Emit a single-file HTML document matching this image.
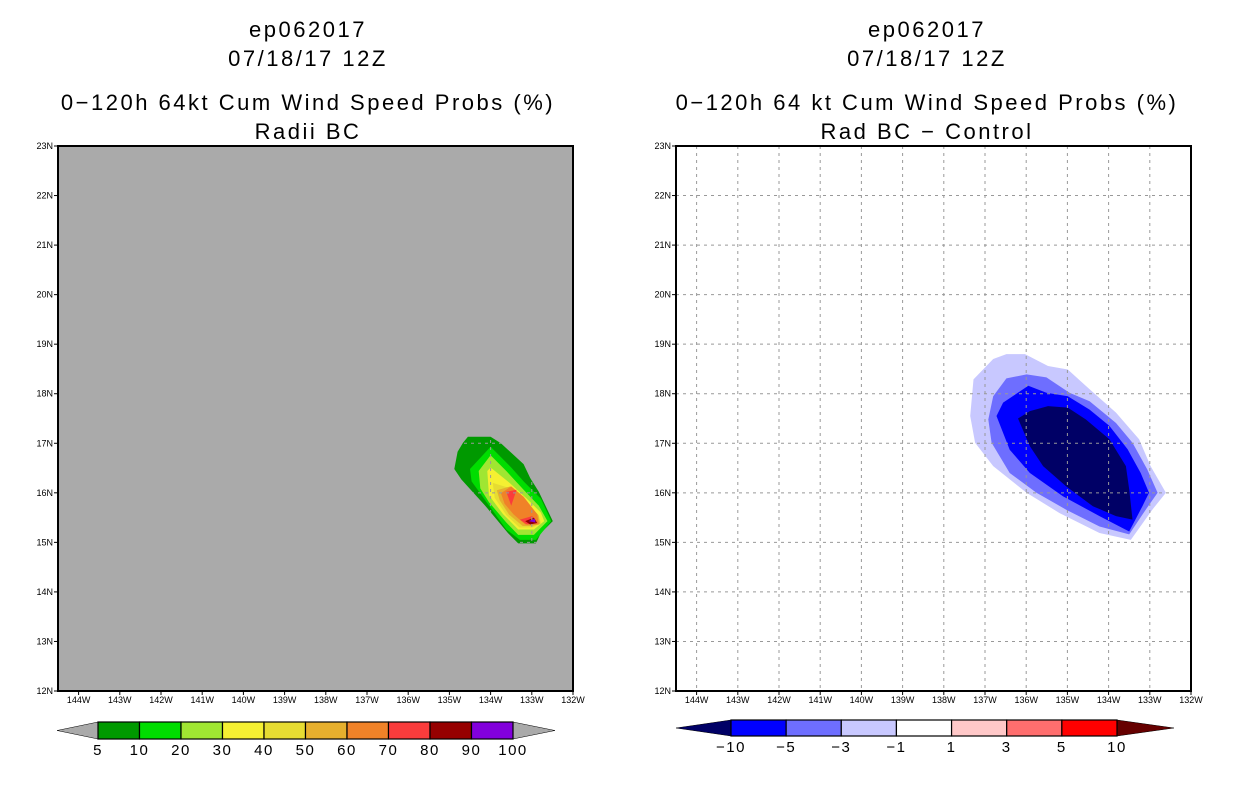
<!DOCTYPE html>
<html><head><meta charset="utf-8">
<style>
html,body{margin:0;padding:0;background:#fff;}
svg{display:block;font-family:"Liberation Sans","DejaVu Sans",sans-serif;}
</style></head>
<body>
<svg id="chart" width="1236" height="800" viewBox="0 0 1236 800" xmlns="http://www.w3.org/2000/svg">
  <defs><clipPath id="lclip"><polygon id="lclipPoly" points=""/></clipPath></defs>
  <g font-size="22" letter-spacing="2.5" text-anchor="middle" fill="#000">
    <text x="308" y="37">ep062017</text>
    <text x="308" y="66">07/18/17 12Z</text>
    <text x="308" y="110">0−120h 64kt Cum Wind Speed Probs (%)</text>
    <text x="308" y="139">Radii BC</text>
  </g>
  <g font-size="22" letter-spacing="2.5" text-anchor="middle" fill="#000">
    <text x="927" y="37">ep062017</text>
    <text x="927" y="66">07/18/17 12Z</text>
    <text x="927" y="110">0−120h 64 kt Cum Wind Speed Probs (%)</text>
    <text x="927" y="139">Rad BC − Control</text>
  </g>
  <g id="left"></g>
  <g id="right"></g>
  <g id="lcb"></g>
  <g id="rcb"></g>
</svg>
<script>
const latTicks = [12,13,14,15,16,17,18,19,20,21,22,23];
const lonTicks = [144,143,142,141,140,139,138,137,136,135,134,133,132];
const leftLevels = ["5","10","20","30","40","50","60","70","80","90","100"];
const leftColors = ["#009900","#00dd00","#a0e632","#f5f032","#e6dc32","#e6af2d","#f08228","#fa3c3c","#960000","#8200dc"];
const rightLevels = ["−10","−5","−3","−1","1","3","5","10"];
const rightColors = ["#000066","#0000ff","#6e6eff","#c8c8ff","#ffffff","#ffc8c8","#ff6e6e","#ff0000","#660000"];
const L5 = [[-134.67,17.01],[-134.55,17.13],[-134.0,17.13],[-133.75,17.0],[-133.2,16.58],[-133.04,16.3],[-132.83,16.02],[-132.49,15.43],[-132.78,15.19],[-132.9,14.98],[-133.33,14.98],[-133.58,15.19],[-134.13,15.74],[-134.71,16.27],[-134.88,16.48],[-134.8,16.83]];
const L10 = [[-134.5,16.48],[-134.0,16.93],[-133.5,16.51],[-133.2,16.23],[-132.78,15.88],[-132.53,15.43],[-132.9,15.05],[-133.29,15.05],[-133.62,15.26],[-134.46,16.23]];
const L20 = [[-134.29,16.44],[-134.0,16.76],[-133.62,16.44],[-133.2,16.06],[-132.83,15.74],[-132.62,15.43],[-132.95,15.15],[-133.33,15.15],[-133.62,15.4],[-134.04,15.81],[-134.25,16.09]];
const L30 = [[-134.08,16.44],[-134.0,16.51],[-133.54,16.2],[-133.12,15.88],[-132.78,15.6],[-132.7,15.43],[-132.95,15.26],[-133.33,15.26],[-133.7,15.57],[-134.04,15.95]];
const L40 = [[-133.95,16.2],[-133.55,16.1],[-133.15,15.8],[-132.82,15.52],[-132.78,15.38],[-132.98,15.3],[-133.3,15.3],[-133.62,15.55],[-133.9,15.9]];
const L50 = [[-133.85,16.05],[-133.52,16.13],[-133.18,15.86],[-132.84,15.55],[-132.8,15.37],[-133.0,15.33],[-133.22,15.33],[-133.55,15.56],[-133.78,15.85]];
const L60 = [[-133.75,15.99],[-133.5,16.13],[-133.2,15.92],[-132.87,15.57],[-132.83,15.36],[-133.16,15.36],[-133.45,15.57],[-133.66,15.78]];
const L70a = [[-133.62,16.02],[-133.37,16.06],[-133.5,15.74]];
const L70b = [[-133.29,15.46],[-132.99,15.53],[-132.87,15.39],[-133.12,15.36]];
const L80 = [[-133.16,15.43],[-132.95,15.5],[-132.87,15.39],[-133.04,15.36]];
const L90 = [[-133.08,15.43],[-132.93,15.48],[-132.91,15.4]];
const R1 = [[-136.48,18.8],[-136.03,18.8],[-135.47,18.56],[-134.99,18.49],[-134.46,18.09],[-133.82,17.62],[-133.26,17.08],[-132.98,16.54],[-132.61,16.0],[-132.94,15.66],[-133.46,15.05],[-134.22,15.19],[-135.19,15.59],[-135.99,16.0],[-136.8,16.54],[-137.24,17.01],[-137.36,17.55],[-137.28,18.29],[-136.8,18.7]];
const R3 = [[-136.48,18.31],[-135.99,18.39],[-135.51,18.33],[-134.95,18.02],[-134.46,17.85],[-133.82,17.41],[-133.42,17.01],[-133.06,16.47],[-132.81,16.0],[-133.1,15.66],[-133.5,15.16],[-134.22,15.32],[-135.03,15.66],[-135.75,16.0],[-136.4,16.4],[-136.84,17.01],[-136.92,17.48],[-136.8,17.95]];
const R5 = [[-136.72,17.55],[-136.56,17.82],[-135.95,18.16],[-135.51,18.02],[-134.99,17.95],[-134.46,17.68],[-133.98,17.35],[-133.54,16.88],[-133.22,16.4],[-133.02,16.0],[-133.18,15.73],[-133.5,15.22],[-134.22,15.53],[-135.11,15.93],[-135.91,16.4],[-136.4,16.87]];
const R10 = [[-136.2,17.5],[-135.91,17.65],[-135.47,17.75],[-134.99,17.72],[-134.55,17.48],[-133.98,17.08],[-133.58,16.54],[-133.5,16.07],[-133.42,15.46],[-133.82,15.53],[-134.38,15.73],[-135.03,16.13],[-135.59,16.54],[-135.91,16.94]];

const NS="http://www.w3.org/2000/svg";
function mk(tag, attrs, parent){const e=document.createElementNS(NS,tag);for(const k in attrs)e.setAttribute(k,attrs[k]);parent.appendChild(e);return e;}
const TOP=146, BOT=691, W=515, LON0=-144.5, LON1=-132;
function xs(x0){return lon=>x0+(lon-LON0)/(LON1-LON0)*W;}
function ys(lat){return TOP+(23-lat)/(23-12)*(BOT-TOP);}
function ptsStr(pts,X){return pts.map(p=>X(p[0]).toFixed(1)+','+ys(p[1]).toFixed(1)).join(' ');}

function panel(g, x0, bg){
  const X=xs(x0);
  const r=mk('rect',{x:x0,y:TOP,width:W,height:BOT-TOP,fill:bg},g);
  
  
  return X;
}
function grid(g,X,x0,clip){
  const attrs={stroke:'#999999','stroke-width':1,'stroke-dasharray':'3,4'};
  if(clip) attrs['clip-path']='url(#lclip)';
  const gg=mk('g',attrs,g);
  
  
  lonTicks.forEach(l=>{const x=X(-l);if(x>x0+1&&x<x0+W-1)mk('line',{x1:x,y1:TOP,x2:x,y2:BOT},gg);});
  latTicks.forEach(l=>{const y=ys(l);if(y>TOP+1&&y<BOT-1)mk('line',{x1:x0,y1:y,x2:x0+W,y2:y},gg);});
}
function poly(g,pts,color,X,name){
  const p=mk('polygon',{points:ptsStr(pts,X),fill:color},g);
  
  
}
function axes(g,X,x0){
  const f=mk('rect',{x:x0,y:TOP,width:W,height:BOT-TOP,fill:'none',stroke:'#000','stroke-width':2},g);
  
  
  latTicks.forEach(l=>{const y=ys(l);
    mk('line',{x1:x0-4,y1:y,x2:x0,y2:y,stroke:'#000'},g);
    const t=mk('text',{x:x0-5,y:y+3,'font-size':9,'text-anchor':'end'},g);t.textContent=l+'N';
    
    });
  lonTicks.forEach(l=>{const x=X(-l);
    mk('line',{x1:x,y1:BOT,x2:x,y2:BOT+4,stroke:'#000'},g);
    const t=mk('text',{x:x,y:BOT+12,'font-size':9,'text-anchor':'middle'},g);t.textContent=l+'W';
    
    });
}
const lg=document.getElementById('left');
const XL=panel(lg,58,'#aaaaaa');
document.getElementById('lclipPoly').setAttribute('points',ptsStr(L5,XL));
const lset=[L5,L10,L20,L30,L40,L50,L60,L70a,L70b,L80,L90];
const lci=[0,1,2,3,4,5,6,7,7,8,9];
lset.forEach((p,i)=>poly(lg,p,leftColors[lci[i]],XL,'contour-'+leftLevels[lci[i]]+'pct'));
grid(lg,XL,58,true);
axes(lg,XL,58);
const rg=document.getElementById('right');
const XR=panel(rg,676,'#ffffff');
[R1,R3,R5,R10].forEach((p,i)=>poly(rg,p,rightColors[3-i],XR,'contour-diff-'+rightLevels[3-i]));
grid(rg,XR,676,false);
axes(rg,XR,676);
function colorbar(g,tipL,x0,x1,tipR,y0,y1,colors,levels,leftTip,rightTip,ly){
  const n=colors.length, w=(x1-x0)/n, ym=(y0+y1)/2;
  const a=mk('polygon',{points:`${tipL},${ym} ${x0},${y0} ${x0},${y1}`,fill:leftTip,stroke:'#000','stroke-width':0.5},g);
  
  
  const b=mk('polygon',{points:`${tipR},${ym} ${x1},${y0} ${x1},${y1}`,fill:rightTip,stroke:'#000','stroke-width':0.5},g);
  
  
  colors.forEach((c,i)=>{const r=mk('rect',{x:x0+i*w,y:y0,width:w,height:y1-y0,fill:c,stroke:'#000','stroke-width':1.2},g);
    
    });
  levels.forEach((l,i)=>{const t=mk('text',{x:x0+i*w,y:ly,'font-size':15,'letter-spacing':1.5,'text-anchor':'middle'},g);t.textContent=l;
    
    });
}
colorbar(document.getElementById('lcb'),57,98,513,555,722,739,leftColors,leftLevels,'#aaaaaa','#aaaaaa',755);
colorbar(document.getElementById('rcb'),676,731,1117,1174,720,736,rightColors.slice(1,8),rightLevels,rightColors[0],rightColors[8],752);
</script>
</body></html>
